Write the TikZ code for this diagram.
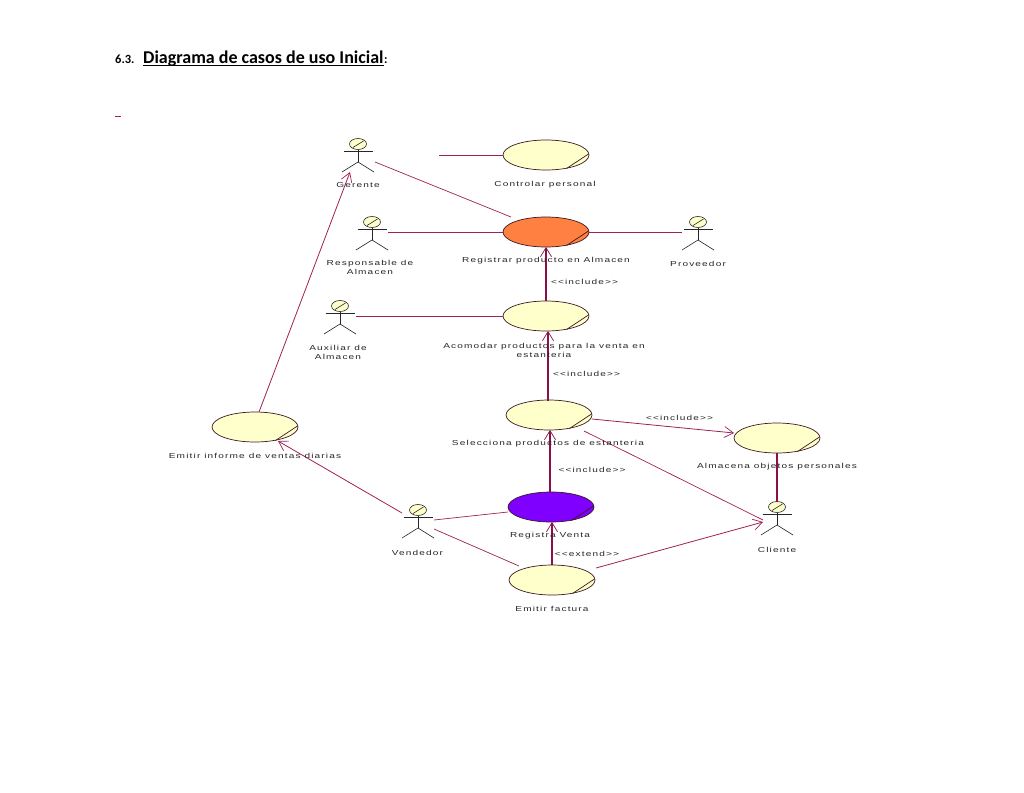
\documentclass[tikz,border=0pt]{standalone}
\usepackage{fontspec}
\setmainfont{Liberation Sans}
\newfontfamily\titlefont{Carlito}
\newfontfamily\umlfont[FakeStretch=1.4,LetterSpace=16]{Liberation Sans}
\usetikzlibrary{shapes.geometric,arrows.meta}
\definecolor{lnk}{HTML}{A02058}
\definecolor{lnkdark}{HTML}{8A1048}
\definecolor{ucfill}{HTML}{FFFFCC}
\definecolor{ucline}{HTML}{3A1A20}
\definecolor{ucorange}{HTML}{FF8040}
\definecolor{ucpurple}{HTML}{7F00FF}
\tikzset{
  x=1pt,y=-1pt,
  usecase/.style={ellipse,draw=ucline,line width=.7pt,fill=ucfill,minimum width=86pt,minimum height=30pt,inner sep=0pt},
  foldline/.style={draw=ucline,line width=.7pt},
  actorbox/.style={inner sep=0pt,minimum size=2pt},
  stick/.style={draw=black!85,line width=.6pt},
  lbl/.style={font=\umlfont\fontsize{7.2}{9}\selectfont,text=black!85,align=center,inner sep=0pt},
  assoc/.style={draw=lnk,line width=.7pt},
  dep/.style={draw=lnk,line width=.8pt,-{Straight Barb[length=9pt,width=11pt,line width=.7pt]}},
  depv/.style={dep,draw=lnkdark,line width=1.1pt,-{Straight Barb[length=9pt,width=11pt,line width=.7pt]}},
}
\newcommand{\ucase}[4]{% name, x, y, fill
  \node[usecase,fill=#4] (#1) at (#2,#3) {};
  \draw[foldline] ([shift={(20.5,13.5)}]#1.center) -- ([shift={(42.5,-1)}]#1.center);
}
\newcommand{\actor}[3]{% name, x, y of head centre
  \node[actorbox] (#1) at (#2,#3) {};
  \draw[stick,fill=ucfill] (#1.center) ellipse (8.5 and 5.5);
  \draw[stick] ([shift={(-5,3.5)}]#1.center) -- ([shift={(5.5,-3)}]#1.center);
  \draw[stick] ([shift={(-14.5,7.5)}]#1.center) -- ([shift={(14.5,7.5)}]#1.center);
  \draw[stick] ([shift={(0,5.5)}]#1.center) -- ([shift={(0,18)}]#1.center);
  \draw[stick] ([shift={(-16,28)}]#1.center) -- ([shift={(0,18)}]#1.center) -- ([shift={(16,28)}]#1.center);
}
\begin{document}
\begin{tikzpicture}
\useasboundingbox[fill=white] (0,0) rectangle (1024,792);
% title
\node[anchor=base west,inner sep=0pt,font=\titlefont\bfseries\fontsize{12.5}{14}\selectfont] (num) at (115,63.5) {6.3.};
\node[anchor=base west,inner sep=0pt,font=\titlefont\bfseries\fontsize{18}{20}\selectfont] (ttl) at (143,63.5) {Diagrama de casos de uso Inicial};
\node[anchor=base west,inner sep=0pt,font=\titlefont\bfseries\fontsize{12.5}{14}\selectfont] (colon) at (ttl.base east) {:};
\draw[black,line width=1.2pt] ([yshift=-1.6pt]ttl.base west) -- ([yshift=-1.6pt]ttl.base east);
\coordinate (dashA) at (115,116.5);
\coordinate (dashB) at (121,116.5);
\draw[assoc] (dashA) -- (dashB);
% use cases
\ucase{ctrl}{546}{155}{ucfill}
\ucase{reg}{546}{232}{ucorange}
\ucase{acom}{546}{316}{ucfill}
\ucase{sel}{549}{415}{ucfill}
\ucase{alm}{777}{438}{ucfill}
\ucase{venta}{551}{507}{ucpurple}
\ucase{fact}{552}{580}{ucfill}
\ucase{inf}{255}{427}{ucfill}
% actors
\actor{ger}{358}{144}
\actor{resp}{372}{222}
\actor{prov}{698}{222}
\actor{aux}{340}{306}
\actor{vend}{418}{510}
\actor{cli}{777}{507}
% associations
\draw[assoc] ([shift={(81,11)}]ger.center) -- (ctrl.west);
\draw[assoc] ([shift={(17,18)}]ger.center) -- ([shift={(-35,-15)}]reg.center);
\draw[assoc] ([shift={(16,10)}]resp.center) -- (reg.west);
\draw[assoc] (reg.east) -- ([shift={(-16,10)}]prov.center);
\draw[assoc] ([shift={(16,10)}]aux.center) -- (acom.west);
\draw[assoc] ([shift={(-14,13)}]cli.center) -- ([shift={(35,16)}]sel.center);
\draw[assoc,draw=lnkdark,line width=1.1pt] (alm.south) -- ([shift={(0,-5.5)}]cli.center);
\draw[assoc] ([shift={(16,10)}]vend.center) -- ([shift={(-43,5)}]venta.center);
\draw[assoc] ([shift={(16,19)}]vend.center) -- ([shift={(-33,-14)}]fact.center);
% dependencies
\draw[depv] (acom.north) -- ([shift={(0,15)}]reg.center);
\draw[depv] ([shift={(-1,-14.5)}]sel.center) -- ([shift={(2,15)}]acom.center);
\draw[depv] ([shift={(-1,-15)}]venta.center) -- ([shift={(1,15)}]sel.center);
\draw[dep] ([shift={(43,4)}]sel.center) -- ([shift={(-43,-5)}]alm.center);
\draw[dep] ([shift={(-16,3)}]vend.center) -- ([shift={(23,14)}]inf.center);
\draw[dep] ([shift={(4,-15)}]inf.center) -- ([shift={(-8,28)}]ger.center);
\draw[depv] (fact.north) -- ([shift={(1,15)}]venta.center);
\draw[dep] ([shift={(44,-12)}]fact.center) -- ([shift={(-14,15)}]cli.center);
% labels
\node[lbl] (lger) at (358,185) {Gerente};
\node[lbl] (lctrl) at (545,184.5) {Controlar personal};
\node[lbl] (lresp) at (370,267.5) {Responsable de\\Almacen};
\node[lbl] (lreg) at (546,261) {Registrar producto en Almacen};
\node[lbl] (lprov) at (698,264) {Proveedor};
\node[lbl] (linc1) at (584.5,281.5) {<<include>>};
\node[lbl] (laux) at (338,352.5) {Auxiliar de\\Almacen};
\node[lbl] (lacom) at (544,350) {Acomodar productos para la venta en\\estanteria};
\node[lbl] (linc2) at (586.5,373.5) {<<include>>};
\node[lbl] (linf) at (255,456) {Emitir informe de ventas diarias};
\node[lbl] (lsel) at (548,444) {Selecciona productos de estanteria};
\node[lbl] (linc3) at (679.5,417.5) {<<include>>};
\node[lbl] (lalm) at (777,467) {Almacena objetos personales};
\node[lbl] (linc4) at (592,469.5) {<<include>>};
\node[lbl] (lvend) at (417.5,553) {Vendedor};
\node[lbl] (lventa) at (550,535.5) {Registra Venta};
\node[lbl] (lext) at (587,553.5) {<<extend>>};
\node[lbl] (lcli) at (777,549.5) {Cliente};
\node[lbl] (lfact) at (552,608.5) {Emitir factura};
\end{tikzpicture}
\end{document}
